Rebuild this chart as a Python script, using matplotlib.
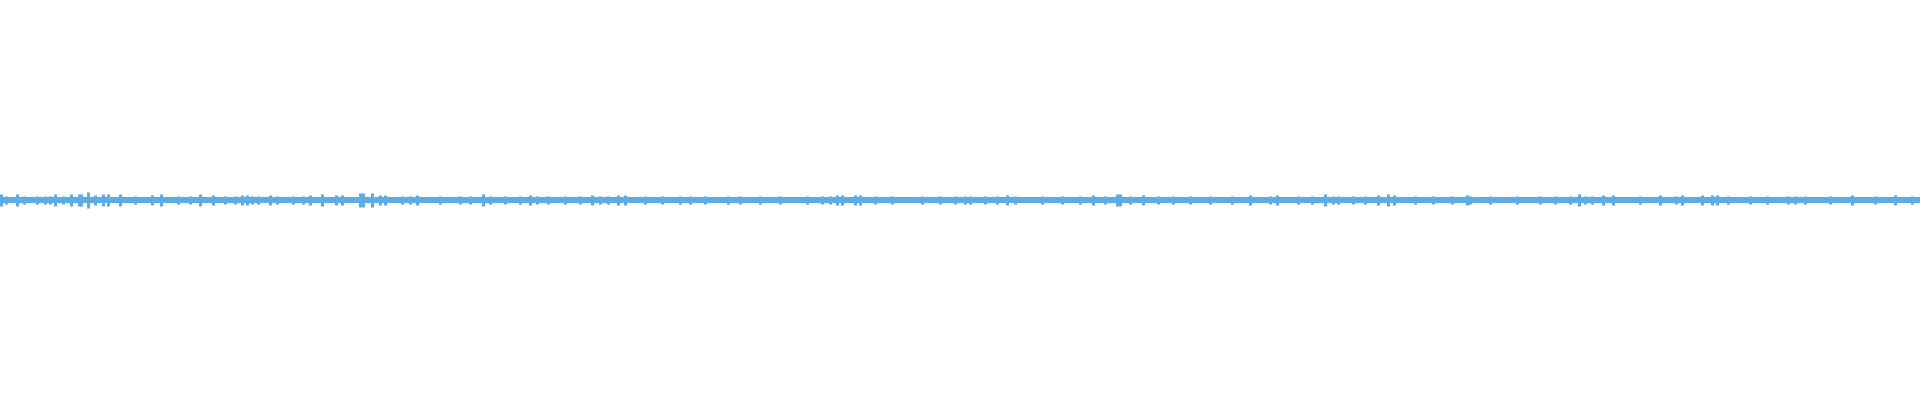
import matplotlib
matplotlib.use("Agg")
import matplotlib.pyplot as plt

# 파형 데이터 (가로: 열 위치, 세로: 정규화 진폭)
duration = 1920
base_amp = 0.0155

spike_pos = [1, 6, 17, 24, 37, 45, 50, 55, 63, 71, 79, 81, 88, 95, 103, 108, 120, 135, 152, 161,
             178, 190, 200, 213, 225, 235,
             242, 247, 252, 258, 270, 277, 293, 303, 310, 322, 336, 342, 360, 363, 372, 380,
             385, 402, 410, 417, 440, 460, 470,
             483, 490, 505, 520, 530, 537, 548, 565, 580, 592, 600, 608, 618, 625, 645, 662, 680, 690,
             705, 728, 740, 760, 780, 807, 822, 830, 837, 842, 855, 860, 875, 892, 922, 940, 955,
             965, 970, 985, 997, 1007, 1015, 1042, 1062, 1080, 1093, 1105, 1117, 1120, 1130, 1143,
             1158, 1173, 1190, 1210, 1232, 1250, 1270, 1277, 1298, 1312, 1325, 1333, 1338, 1353,
             1365, 1378, 1388, 1394, 1415, 1433,
             1452, 1467, 1470, 1490, 1517, 1540, 1555, 1570, 1579, 1585, 1592, 1603, 1613, 1640,
             1660, 1676,
             1682, 1702, 1712, 1717, 1728, 1750, 1767, 1788, 1795, 1805, 1830, 1852, 1875, 1895,
             1912]
spike_amp = [0.030, 0.022, 0.030, 0.022, 0.022, 0.022, 0.022, 0.030, 0.022, 0.030, 0.030, 0.030,
             0.039, 0.025, 0.030, 0.030, 0.030, 0.020, 0.025, 0.030,
             0.022, 0.022, 0.030, 0.025, 0.022, 0.022,
             0.025, 0.025, 0.022, 0.022, 0.027, 0.020, 0.022, 0.022, 0.027, 0.030, 0.027,
             0.027, 0.033, 0.035, 0.037, 0.025,
             0.025, 0.022, 0.022, 0.025, 0.020, 0.022, 0.022,
             0.030, 0.022, 0.020, 0.022, 0.025, 0.022, 0.022, 0.020, 0.022, 0.025, 0.022, 0.022,
             0.025, 0.025, 0.020, 0.022, 0.022, 0.022,
             0.020, 0.022, 0.022, 0.020, 0.020, 0.022, 0.022, 0.022, 0.025, 0.025, 0.025, 0.025,
             0.020, 0.022, 0.022, 0.020, 0.022,
             0.022, 0.022, 0.020, 0.022, 0.025, 0.022, 0.022, 0.022, 0.022, 0.025, 0.020, 0.030,
             0.030, 0.022, 0.025,
             0.020, 0.022, 0.020, 0.022, 0.022, 0.025, 0.022, 0.025, 0.022, 0.022, 0.030, 0.022,
             0.022, 0.022,
             0.020, 0.025, 0.030, 0.025, 0.022, 0.022,
             0.020, 0.025, 0.022, 0.020, 0.022, 0.020, 0.022, 0.022, 0.029, 0.022, 0.022, 0.025,
             0.025, 0.020,
             0.025, 0.022,
             0.025, 0.025, 0.025, 0.025, 0.022, 0.020, 0.022, 0.022, 0.022, 0.022, 0.020, 0.025,
             0.020, 0.027,
             0.020]

color = "#5dade2"

fig = plt.figure(figsize=(19.2, 4), dpi=100)
ax = fig.add_axes([0, 0, 1, 1])

# 기본 파형 띠
ax.fill_between([0, duration], [-base_amp, -base_amp], [base_amp, base_amp],
                color=color, linewidth=0)
# 피크
neg_amp = [-a for a in spike_amp]
ax.vlines(spike_pos, neg_amp, spike_amp, color=color, linewidth=2.2)

ax.set_xlim(0, duration)
ax.set_ylim(-1, 1)
ax.axis("off")

fig.savefig("out.png", dpi=100, facecolor="white")
